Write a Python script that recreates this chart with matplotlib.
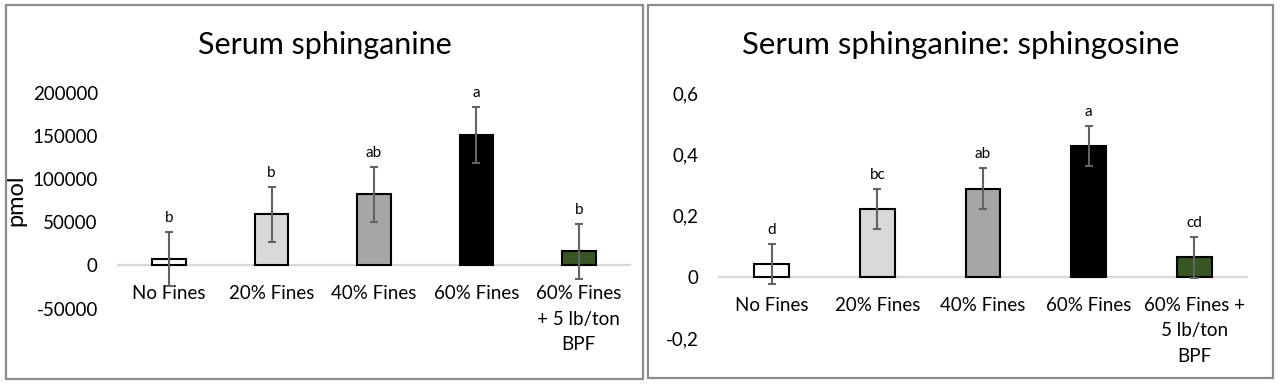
import numpy as np
import matplotlib
matplotlib.use("Agg")
import matplotlib.pyplot as plt
from matplotlib.patches import Rectangle
from matplotlib.ticker import FuncFormatter

plt.rcParams['font.family'] = ['Lato', 'DejaVu Sans']

# data
cats_left = ["No Fines", "20% Fines", "40% Fines", "60% Fines", "60% Fines\n+ 5 lb/ton\nBPF"]
cats_right = ["No Fines", "20% Fines", "40% Fines", "60% Fines", "60% Fines +\n5 lb/ton\nBPF"]

sa_vals = [7000, 59000, 82000, 151000, 16000]
sa_err = [31500, 32000, 31800, 32500, 31600]
sa_letters = ["b", "b", "ab", "a", "b"]

ratio_vals = [0.042, 0.222, 0.288, 0.427, 0.063]
ratio_err = [0.066, 0.066, 0.066, 0.066, 0.066]
ratio_letters = ["d", "bc", "ab", "a", "cd"]

bar_colors = ["#ffffff", "#d9d9d9", "#a6a6a6", "#000000", "#375623"]

fig = plt.figure(figsize=(12.8, 3.86), dpi=100)
W, H = 1280, 386

# panel frames (pixel boxes)
for x0, y0, x1, y1 in [(6, 5, 643, 379), (648, 5, 1273, 378)]:
    fig.patches.append(Rectangle((x0 / W, 1 - y1 / H), (x1 - x0) / W, (y1 - y0) / H,
                                 transform=fig.transFigure, fill=False,
                                 edgecolor="#8c8c8c", linewidth=1.6))

ax1 = fig.add_axes([118 / W, 1 - 308.5 / H, 512 / W, 216 / H])
ax2 = fig.add_axes([719 / W, 1 - 338 / H, 528 / W, 245 / H])


def draw(ax, cats, vals, err, letters, ylim, yticks, fmt, title, title_x, title_size):
    x = np.arange(len(cats))
    ax.bar(x, vals, width=0.33, color=bar_colors, edgecolor="black", linewidth=1.5, zorder=3)
    ax.errorbar(x, vals, yerr=err, fmt="none", ecolor="#636363", elinewidth=1.5,
                capsize=3.2, capthick=1.5, zorder=4)
    for xi, v, e, lab in zip(x, vals, err, letters):
        ax.annotate(lab, (xi, v + e), xytext=(0, 5), textcoords="offset points",
                    ha="center", va="bottom", fontsize=11)
    # category labels hang just under the zero line
    for xi, cat in zip(x, cats):
        ax.annotate(cat, (xi, 0), xytext=(0, -14.5), textcoords="offset points",
                    ha="center", va="top", fontsize=13.5, linespacing=1.6,
                    annotation_clip=False)
    ax.set_xlim(-0.5, len(cats) - 0.5)
    ax.set_ylim(*ylim)
    ax.set_yticks(yticks)
    ax.yaxis.set_major_formatter(FuncFormatter(fmt))
    ax.set_xticks([])
    for s in ["top", "right", "left"]:
        ax.spines[s].set_visible(False)
    ax.spines["bottom"].set_position(("data", 0))
    ax.spines["bottom"].set_color("#d9d9d9")
    ax.spines["bottom"].set_linewidth(1.6)
    ax.spines["bottom"].set_zorder(2)
    ax.tick_params(axis="y", length=0, pad=14.5, labelsize=13.5)
    ax.set_facecolor("none")
    fig.text(title_x, 1 - 45 / H, title, ha="center", va="center", fontsize=title_size)


draw(ax1, cats_left, sa_vals, sa_err, sa_letters, (-50000, 200000),
     [-50000, 0, 50000, 100000, 150000, 200000], lambda v, p: f"{int(v)}",
     "Serum sphinganine", 324.5 / W, 22)
ax1.set_ylabel("pmol", fontsize=17)
ax1.yaxis.set_label_coords(-0.178, 0.5)

draw(ax2, cats_right, ratio_vals, ratio_err, ratio_letters, (-0.2, 0.6),
     [-0.2, 0, 0.2, 0.4, 0.6], lambda v, p: ("0" if abs(v) < 1e-9 else f"{v:.1f}".replace(".", ",")),
     "Serum sphinganine: sphingosine", 960.5 / W, 22.4)

fig.savefig("out.png", dpi=100, facecolor="white")
